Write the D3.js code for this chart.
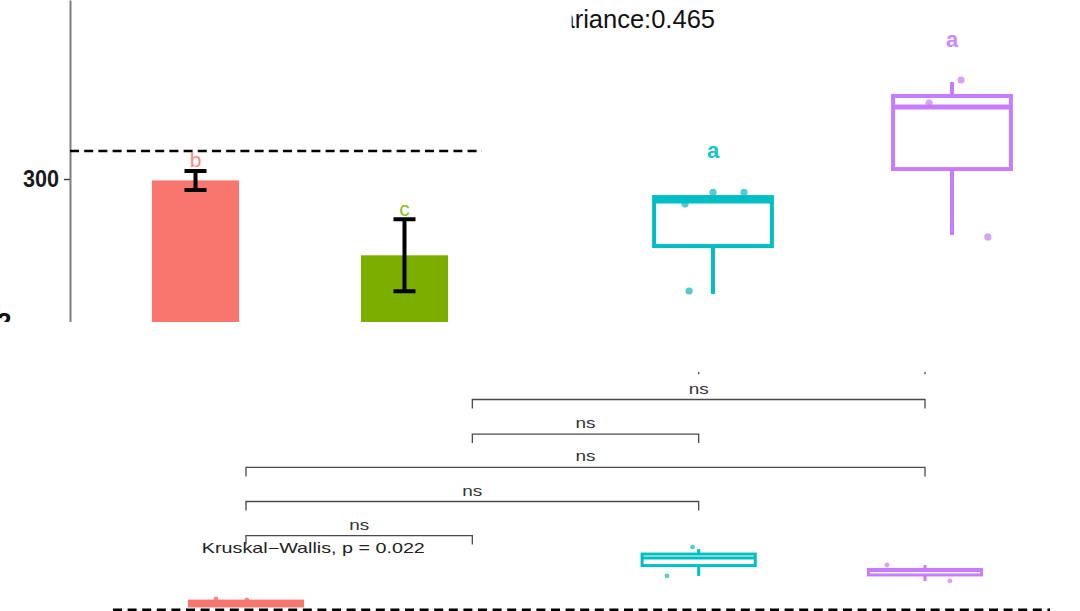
<!DOCTYPE html>
<html><head><meta charset="utf-8">
<script src="https://cdn.jsdelivr.net/npm/d3@7"></script>
<style>body{margin:0;background:#fff}svg{display:block;font-family:"Liberation Sans",Arial,sans-serif}</style>
</head><body>
<svg id="c" width="1080" height="611"></svg>
<script>
// ---------- top panel data ----------
const barGroups = ["G1","G2"];
const barMeans = [299, 245.5];
const barErrors = [6.8, 25.7];
const barLetters = ["b","c"];
const barLetterY = [308.6, 273.6];
const boxGroups = ["G3","G4"];
const boxLowerWhisker = [217.9, 260];
const boxQ1 = [252.1, 307.1];
const boxMedian = [284.3, 351.4];
const boxQ3 = [287.1, 359.3];
const boxUpperWhisker = [287.1, 369.3];
const boxLetters = ["a","a"];
const boxLetterY = [315, 394.3];
const boxPoints = [[220, 282.1, 290.5, 290.5], [370.7, 354.3, 258.6]];
const boxJitter = [[-0.10, -0.117, 0, 0.13], [0.038, -0.096, 0.15]];
const refLineValue = 320;
const yTicks = [300];
const varianceText = "Variance:0.465";
const varianceVisible = "riance:0.465";
const colors = {G1:"#F8766D", G2:"#7CAE00", G3:"#00BFC4", G4:"#C77CFF"};
const pointColors = {G1:"#F28C86", G2:"#9BC23A", G3:"#55CBCF", G4:"#D6A2F6"};

// ---------- bottom panel data ----------
const allGroups = ["G1","G2","G3","G4"];
const kwGroups = ["G1","G3","G4"];
const kwLow = [0.15, 1.42, 1.21];
const kwQ1 = [0.17, 1.85, 1.46];
const kwMed = [0.27, 2.17, 1.65];
const kwQ3 = [0.37, 2.33, 1.69];
const kwHigh = [0.40, 2.54, 1.875];
const kwPoints = [[0.46, 0.42], [2.62, 1.42], [1.875, 1.21]];
const kwJitter = [[-0.133, 0.004], [-0.027, -0.14], [-0.168, 0.11]];
const cmpPairs = [["G3","G4"],["G2","G4"],["G2","G3"],["G1","G4"],["G1","G3"],["G1","G2"]];
const cmpLevels = [10.2, 8.77, 7.33, 5.94, 4.52, 3.10];
const cmpLabels = ["ns","ns","ns","ns","ns","ns"];
const kwLabel = "Kruskal\u2212Wallis, p = 0.022";
const kwLabelY = 2.375;
const baseLineValue = 0;

const svg = d3.select("#c");
const defs = svg.append("defs");
defs.append("clipPath").attr("id","topClip").append("rect").attr("x",0).attr("y",0).attr("width",1080).attr("height",322);

// ================= bottom panel =================
const xB = d3.scalePoint().domain(allGroups).range([246, 925]);
const stepB = xB.step();
const yB = d3.scaleLinear().domain([0, 10]).range([610, 370]);
const gB = svg.append("g");

gB.append("line")
  .attr("x1", 113).attr("x2", 1050)
  .attr("y1", yB(baseLineValue)).attr("y2", yB(baseLineValue))
  .attr("stroke", "#000").attr("stroke-width", 3).attr("stroke-dasharray", "9,5.6");

const tickLen = 9;
cmpPairs.forEach((p, i) => {
  const x1 = xB(p[0]), x2 = xB(p[1]), y = yB(cmpLevels[i]);
  gB.append("path")
    .attr("d", `M${x1},${y + tickLen}L${x1},${y}L${x2},${y}L${x2},${y + tickLen}`)
    .attr("fill", "none").attr("stroke", "#4a4a4a").attr("stroke-width", 1.3);
  gB.append("text")
    .attr("x", (x1 + x2) / 2).attr("y", y - 6)
    .attr("text-anchor", "middle").attr("font-size", 15)
    .attr("textLength", 20).attr("lengthAdjust", "spacingAndGlyphs")
    .attr("fill", "#333").text(cmpLabels[i]);
});

gB.append("text")
  .attr("x", xB("G1") - 0.195 * stepB).attr("y", yB(kwLabelY))
  .attr("font-size", 14.5).attr("textLength", 223).attr("lengthAdjust", "spacingAndGlyphs")
  .attr("fill", "#222").text(kwLabel);

const bwB = 0.5 * stepB;
kwGroups.forEach((g, i) => {
  const cx = xB(g), col = colors[g];
  kwPoints[i].forEach((v, j) => {
    gB.append("circle").attr("cx", cx + kwJitter[i][j] * stepB).attr("cy", yB(v))
      .attr("r", 2.4).attr("fill", pointColors[g]);
  });
  gB.append("line").attr("x1", cx).attr("x2", cx).attr("y1", yB(kwLow[i])).attr("y2", yB(kwQ1[i]))
    .attr("stroke", col).attr("stroke-width", 3);
  gB.append("line").attr("x1", cx).attr("x2", cx).attr("y1", yB(kwQ3[i])).attr("y2", yB(kwHigh[i]))
    .attr("stroke", col).attr("stroke-width", 3);
  gB.append("rect").attr("x", cx - bwB / 2).attr("width", bwB)
    .attr("y", yB(kwQ3[i])).attr("height", yB(kwQ1[i]) - yB(kwQ3[i]))
    .attr("fill", "none").attr("stroke", col).attr("stroke-width", 3);
  gB.append("line").attr("x1", cx - bwB / 2).attr("x2", cx + bwB / 2)
    .attr("y1", yB(kwMed[i])).attr("y2", yB(kwMed[i]))
    .attr("stroke", col).attr("stroke-width", 3);
});

// white cover of the top image area
svg.append("rect").attr("x", 0).attr("y", 0).attr("width", 1080).attr("height", 372).attr("fill", "#fff");

// ================= top panel =================
const gT = svg.append("g").attr("clip-path", "url(#topClip)");
const yT = d3.scaleLinear().domain([197.86, 427.86]).range([322, 0]);
const xBar = d3.scalePoint().domain(barGroups).range([195.5, 404.5]);
const barW = 0.417 * xBar.step();
const xBox = d3.scalePoint().domain(boxGroups).range([713, 952]);
const boxW = 0.493 * xBox.step();

// stray glyph of a lower label
gT.append("text").attr("x", -3).attr("y", 331).attr("font-size", 26).attr("font-weight", "bold")
  .attr("fill", "#111").text("2");

// axis
const axis = gT.append("g").attr("transform", "translate(70,0)")
  .call(d3.axisLeft(yT).tickValues(yTicks).tickSize(6).tickSizeOuter(0).tickFormat(d3.format("d")));
axis.select(".domain").attr("stroke", "#7f7f7f").attr("stroke-width", 2);
axis.selectAll(".tick line").attr("stroke", "#444").attr("stroke-width", 1.5);
axis.selectAll(".tick text").attr("font-size", 24).attr("font-weight", "bold").attr("fill", "#1a1a1a")
  .attr("font-family", "Liberation Sans, Arial, sans-serif")
  .attr("textLength", 36).attr("lengthAdjust", "spacingAndGlyphs").attr("x", -11);

// bars
barGroups.forEach((g, i) => {
  const cx = xBar(g);
  gT.append("rect").attr("x", cx - barW / 2).attr("width", barW)
    .attr("y", yT(barMeans[i])).attr("height", yT(0) - yT(barMeans[i]))
    .attr("fill", colors[g]);
});
// reference line
gT.append("line").attr("x1", 70).attr("x2", 482)
  .attr("y1", yT(refLineValue)).attr("y2", yT(refLineValue))
  .attr("stroke", "#000").attr("stroke-width", 2.4).attr("stroke-dasharray", "9,5.2");
// error bars + letters
barGroups.forEach((g, i) => {
  const cx = xBar(g), hi = yT(barMeans[i] + barErrors[i]), lo = yT(barMeans[i] - barErrors[i]);
  const cw = 11;
  gT.append("path")
    .attr("d", `M${cx - cw},${hi}L${cx + cw},${hi}M${cx},${hi}L${cx},${lo}M${cx - cw},${lo}L${cx + cw},${lo}`)
    .attr("stroke", "#000").attr("stroke-width", 4).attr("fill", "none");
  gT.append("text").attr("x", cx).attr("y", yT(barLetterY[i])).attr("text-anchor", "middle")
    .attr("font-size", 21).attr("fill", colors[g]).attr("opacity", 0.85).text(barLetters[i]);
});

// boxplots (points drawn under the boxes)
boxGroups.forEach((g, i) => {
  const cx = xBox(g), col = colors[g];
  boxPoints[i].forEach((v, j) => {
    gT.append("circle").attr("cx", cx + boxJitter[i][j] * xBox.step()).attr("cy", yT(v))
      .attr("r", 3.6).attr("fill", pointColors[g]);
  });
  gT.append("line").attr("x1", cx).attr("x2", cx).attr("y1", yT(boxLowerWhisker[i])).attr("y2", yT(boxQ1[i]))
    .attr("stroke", col).attr("stroke-width", 4);
  gT.append("line").attr("x1", cx).attr("x2", cx).attr("y1", yT(boxQ3[i])).attr("y2", yT(boxUpperWhisker[i]))
    .attr("stroke", col).attr("stroke-width", 4);
  gT.append("rect").attr("x", cx - boxW / 2).attr("width", boxW)
    .attr("y", yT(boxQ3[i])).attr("height", yT(boxQ1[i]) - yT(boxQ3[i]))
    .attr("fill", "none").attr("stroke", col).attr("stroke-width", 4);
  gT.append("line").attr("x1", cx - boxW / 2).attr("x2", cx + boxW / 2)
    .attr("y1", yT(boxMedian[i])).attr("y2", yT(boxMedian[i]))
    .attr("stroke", col).attr("stroke-width", 5);
  gT.append("text").attr("x", cx).attr("y", yT(boxLetterY[i])).attr("text-anchor", "middle")
    .attr("font-size", 22).attr("font-weight", "bold").attr("fill", col).attr("opacity", 0.9).text(boxLetters[i]);
});

// variance annotation (its first letters are hidden, as in the reference)
const fsVar = 25.5, varEnd = 715;
const probe = svg.append("text").attr("font-size", fsVar).text(varianceVisible);
const wVis = probe.node().getComputedTextLength();
probe.remove();
defs.append("clipPath").attr("id","varClip").append("rect")
  .attr("x", varEnd - wVis - 3).attr("y", 0).attr("width", 400).attr("height", 60);
svg.append("g").attr("clip-path", "url(#varClip)")
  .append("text").attr("x", varEnd).attr("y", 28).attr("text-anchor", "end")
  .attr("font-size", fsVar).attr("fill", "#111").text(varianceText);
</script>
</body></html>
